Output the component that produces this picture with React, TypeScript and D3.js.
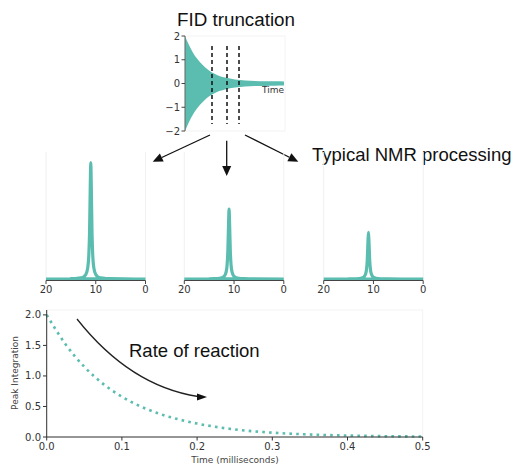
import React from 'react';
import * as d3 from 'd3';

// FID envelope (time in arbitrary units, amplitude)
const fidTime = [0, 0.4, 0.8, 1.2, 1.6, 2.0, 2.5, 3.0, 3.5, 4.0, 5.0, 6.0, 7.0, 8.0, 9.0, 9.9];
const fidEnvelope = [2.0, 1.62, 1.3, 1.05, 0.85, 0.68, 0.52, 0.4, 0.31, 0.25, 0.17, 0.13, 0.11, 0.1, 0.09, 0.085];
const fidTicks = [2, 1, 0, -1, -2];
const truncTimes = [2.7, 4.2, 5.4];

// spectrum peak shape (offset from peak centre in ppm, relative intensity)
const peakOffsets = [-9, -4, -3, -2, -1.5, -1, -0.6, -0.4, -0.25, -0.1, 0, 0.1, 0.25, 0.4, 0.6, 1, 1.5, 2, 3, 4, 11];
const peakShape = [0, 0.0025, 0.0044, 0.01, 0.017, 0.038, 0.1, 0.2, 0.39, 0.8, 1, 0.8, 0.39, 0.2, 0.1, 0.038, 0.017, 0.01, 0.0044, 0.0025, 0];
const peakCentre = 11;
const peakHeights = [1.0, 0.6, 0.4];
const ppmTicks = [20, 10, 0];

// peak integration vs time
const rxTime = [0, 0.025, 0.05, 0.075, 0.1, 0.125, 0.15, 0.175, 0.2, 0.25, 0.3, 0.35, 0.4, 0.45, 0.5];
const rxIntegral = [2.0, 1.52, 1.15, 0.87, 0.66, 0.5, 0.38, 0.29, 0.22, 0.124, 0.071, 0.041, 0.024, 0.013, 0.008];
const rxXTicks = [0, 0.1, 0.2, 0.3, 0.4, 0.5];
const rxYTicks = [0, 0.5, 1.0, 1.5, 2.0];

const teal = '#5bbcb0';
const tickFont = 'DejaVu Sans, sans-serif';
const titleFont = 'Liberation Sans, Arial, sans-serif';

function FidPanel() {
  const x = d3.scaleLinear().domain([0, 10]).range([185, 285]);
  const y = d3.scaleLinear().domain([-2, 2]).range([131, 36]);
  const pts = fidTime.map((t, i) => ({ t, e: fidEnvelope[i] }));
  const area = d3.area<{ t: number; e: number }>()
    .x(d => x(d.t))
    .y0(d => y(-d.e))
    .y1(d => y(d.e))
    .curve(d3.curveMonotoneX);
  return (
    <g>
      <rect x={185} y={36} width={100} height={95} fill="none" stroke="#f3f3f3" />
      <path d={area(pts) || ''} fill={teal} />
      <line x1={185} x2={185} y1={36} y2={131} stroke="#666" strokeWidth={1} />
      {fidTicks.map(v => (
        <g key={v}>
          <line x1={181.5} x2={185} y1={y(v)} y2={y(v)} stroke="#444" />
          <text x={180} y={y(v)} dy="0.35em" textAnchor="end" fontSize={10} fontFamily={tickFont} fill="#333">
            {v < 0 ? '\u2212' + Math.abs(v) : v}
          </text>
        </g>
      ))}
      {truncTimes.map(t => (
        <line key={t} x1={x(t)} x2={x(t)} y1={46} y2={124} stroke="#111" strokeWidth={1.5} strokeDasharray="4,3" />
      ))}
      <text x={284} y={93} textAnchor="end" fontSize={9} fontFamily={tickFont} fill="#333">Time</text>
      <text x={236} y={26} textAnchor="middle" fontSize={18.8} fontFamily={titleFont} fill="#111">FID truncation</text>
    </g>
  );
}

function SpectrumPanel({ x0, height }: { x0: number; height: number }) {
  const x = d3.scaleLinear().domain([20, 0]).range([x0, x0 + 99.5]);
  const y = d3.scaleLinear().domain([0, 1.1]).range([279, 151]);
  const pts = peakOffsets.map((o, i) => ({ p: peakCentre + o, v: peakShape[i] * height }))
    .filter(d => d.p >= 0 && d.p <= 20);
  const first = { p: 20, v: 0 };
  const last = { p: 0, v: 0 };
  const line = d3.line<{ p: number; v: number }>()
    .x(d => x(d.p))
    .y(d => y(d.v))
    .curve(d3.curveMonotoneX);
  return (
    <g>
      <line x1={x0} x2={x0} y1={152} y2={280} stroke="#f0f0f0" />
      <line x1={x0 + 99.5} x2={x0 + 99.5} y1={152} y2={280} stroke="#f0f0f0" />
      <path d={line([first, ...pts, last]) || ''} fill="none" stroke={teal} strokeWidth={3.2} strokeLinejoin="round" />
      <line x1={x0} x2={x0 + 99.5} y1={280.5} y2={280.5} stroke="#444" strokeWidth={1} />
      {ppmTicks.map(v => (
        <g key={v}>
          <line x1={x(v)} x2={x(v)} y1={280.5} y2={284} stroke="#444" />
          <text x={x(v)} y={293} textAnchor="middle" fontSize={10} fontFamily={tickFont} fill="#333">{v}</text>
        </g>
      ))}
    </g>
  );
}

function Arrow({ x1, y1, x2, y2, head = 10, w = 9 }: { x1: number; y1: number; x2: number; y2: number; head?: number; w?: number }) {
  const a = Math.atan2(y2 - y1, x2 - x1);
  const bx = x2 - head * Math.cos(a);
  const by = y2 - head * Math.sin(a);
  const nx = -Math.sin(a) * w / 2;
  const ny = Math.cos(a) * w / 2;
  return (
    <g>
      <line x1={x1} y1={y1} x2={bx} y2={by} stroke="#111" strokeWidth={1.3} />
      <path d={`M${x2},${y2}L${bx + nx},${by + ny}L${bx - nx},${by - ny}Z`} fill="#111" />
    </g>
  );
}

function ReactionPanel() {
  const x = d3.scaleLinear().domain([0, 0.5]).range([46.7, 422.7]);
  const y = d3.scaleLinear().domain([0, 2.08]).range([437, 310]);
  const pts = rxTime.map((t, i) => ({ t, v: rxIntegral[i] }));
  const line = d3.line<{ t: number; v: number }>()
    .x(d => x(d.t))
    .y(d => y(d.v))
    .curve(d3.curveMonotoneX);
  const arrowPath = d3.path();
  arrowPath.moveTo(77, 319);
  arrowPath.quadraticCurveTo(130, 386, 198, 396.5);
  return (
    <g>
      <rect x={46.7} y={310} width={376} height={127} fill="none" stroke="#f3f3f3" />
      <path d={line(pts) || ''} fill="none" stroke={teal} strokeWidth={2.6} strokeDasharray="2.6,4.2" />
      <line x1={46.7} x2={46.7} y1={310} y2={437} stroke="#333" />
      <line x1={46.7} x2={422.7} y1={437} y2={437} stroke="#333" />
      {rxYTicks.map(v => (
        <g key={v}>
          <line x1={43} x2={46.7} y1={y(v)} y2={y(v)} stroke="#333" />
          <text x={41} y={y(v)} dy="0.35em" textAnchor="end" fontSize={10} fontFamily={tickFont} fill="#333">{v.toFixed(1)}</text>
        </g>
      ))}
      {rxXTicks.map(v => (
        <g key={v}>
          <line x1={x(v)} x2={x(v)} y1={437} y2={440.5} stroke="#333" />
          <text x={x(v)} y={450} textAnchor="middle" fontSize={10} fontFamily={tickFont} fill="#333">{v.toFixed(1)}</text>
        </g>
      ))}
      <text x={235} y={463} textAnchor="middle" fontSize={9} fontFamily={tickFont} fill="#444">Time (milliseconds)</text>
      <text transform="translate(18,373) rotate(-90)" textAnchor="middle" fontSize={9} fontFamily={tickFont} fill="#444">Peak Integration</text>
      <path d={arrowPath.toString()} fill="none" stroke="#222" strokeWidth={1.3} />
      <path d="M207,397 L197,393.5 L197,400.5 Z" fill="#111" />
      <text x={129} y={357} fontSize={18.5} fontFamily={titleFont} fill="#111">Rate of reaction</text>
    </g>
  );
}

export default function App() {
  return (
    <svg width={515} height={465} style={{ position: 'absolute', left: 0, top: 0, background: '#fff' }}>
      <FidPanel />
      <Arrow x1={210} y1={135} x2={152.7} y2={161.7} />
      <Arrow x1={226.7} y1={140.7} x2={226.7} y2={176} />
      <Arrow x1={245} y1={135} x2={298.3} y2={161.7} />
      <text x={312} y={161} fontSize={18.5} fontFamily={titleFont} fill="#111">Typical NMR processing</text>
      {peakHeights.map((h, i) => (
        <SpectrumPanel key={i} x0={[46, 184.3, 323.7][i]} height={h} />
      ))}
      <ReactionPanel />
    </svg>
  );
}
